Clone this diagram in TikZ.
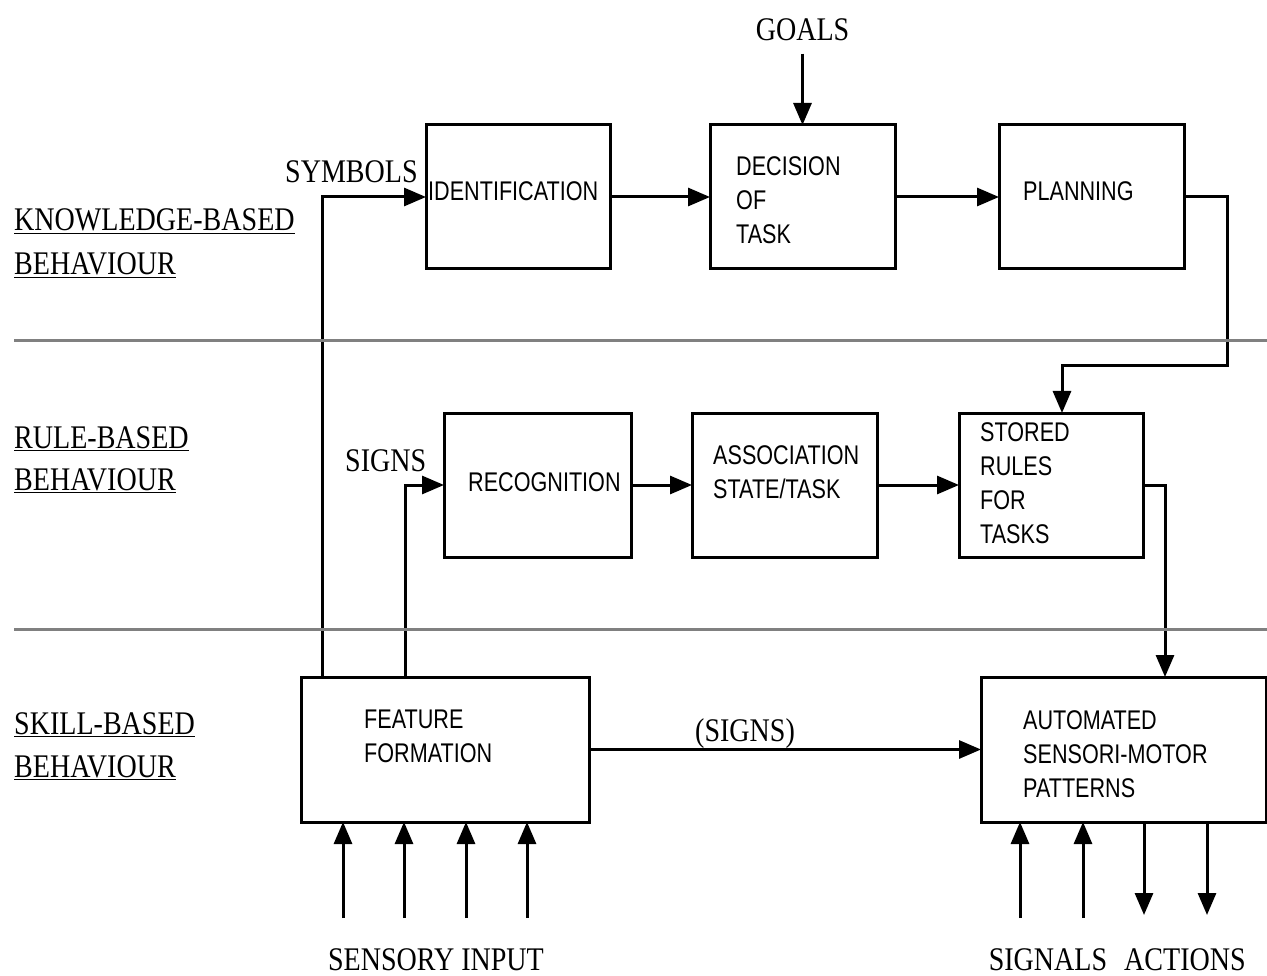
\documentclass[tikz,border=0pt]{standalone}
\usepackage{fontspec}
\setmainfont{Liberation Serif}[FakeStretch=0.85]
\newfontfamily\boxfont{Liberation Sans}[FakeStretch=0.8]
\usetikzlibrary{arrows.meta}
\definecolor{sepgray}{RGB}{128,128,128}
\begin{document}
\begin{tikzpicture}[x=1pt,y=-1pt,
  box/.style={draw, line width=3pt, minimum height=144pt, inner sep=0pt, outer sep=0pt, anchor=north west},
  conn/.style={line width=3pt, -{Triangle[length=22pt,width=18pt]}},
  sepline/.style={line width=3pt, draw=sepgray},
  serif/.style={inner sep=0pt, font=\fontsize{33}{43}\selectfont, anchor=base west},
  sans/.style={inner sep=0pt, font=\boxfont\fontsize{27}{34}\selectfont, align=left, anchor=north west},
]
\useasboundingbox (0,0) rectangle (1267,976);

% boxes
\node[box, minimum width=184pt] (ident) at (426,125) {};
\node[box, minimum width=185pt] (dec) at (710,125) {};
\node[box, minimum width=185pt] (plan) at (999,125) {};
\node[box, minimum width=187pt] (recog) at (444,413) {};
\node[box, minimum width=185pt] (assoc) at (692,413) {};
\node[box, minimum width=184pt] (stored) at (959,413) {};
\node[box, minimum width=288pt, minimum height=145pt] (ff) at (301,677) {};
\node[box, minimum width=285pt, minimum height=145pt] (auto) at (981,677) {};

% box texts
\node[sans, anchor=base west] (tident) at (428,201) {IDENTIFICATION};
\node[sans] (tdec) at (736,156) {DECISION\\OF\\TASK};
\node[sans, anchor=base west] (tplan) at (1023,201) {PLANNING};
\node[sans, anchor=base west] (trec) at (468,491) {RECOGNITION};
\node[sans] (tassoc) at (713,445) {ASSOCIATION\\STATE/TASK};
\node[sans] (tstored) at (980,422) {STORED\\RULES\\FOR\\TASKS};
\node[sans] (tff) at (364,710) {FEATURE\\FORMATION};
\node[sans] (tauto) at (1023,710) {AUTOMATED\\SENSORI-MOTOR\\PATTERNS};

% serif labels
\node[serif, anchor=base] (goals) at (802.5,41) {GOALS};
\node[serif] (symbols) at (285,183) {SYMBOLS};
\node[serif] (signs) at (345,471) {SIGNS};
\node[serif] (signs2) at (695,741) {(SIGNS)};
\node[serif, anchor=base] (sensory) at (436,970) {SENSORY INPUT};
\node[serif, anchor=base] (signals) at (1048,970) {SIGNALS};
\node[serif, anchor=base] (actions) at (1185,970) {ACTIONS};

\node[serif] (kb1) at (14,231) {\underline{KNOWLEDGE-BASED}};
\node[serif] (kb2) at (14,275) {\underline{BEHAVIOUR}};
\node[serif] (rb1) at (14,448) {\underline{RULE-BASED}};
\node[serif] (rb2) at (14,490) {\underline{BEHAVIOUR}};
\node[serif] (sb1) at (14,734) {\underline{SKILL-BASED}};
\node[serif] (sb2) at (14,777) {\underline{BEHAVIOUR}};

% connectors
\coordinate (symx) at (322,0);
\draw[conn] (symx |- ff.north) |- (ident.west);
\draw[conn] (ident.east) -- (dec.west);
\draw[conn] (dec.east) -- (plan.west);
\draw[conn] ([yshift=-12pt]goals.south) -- (dec.north);
\coordinate (p1) at (1227,366);
\coordinate (p2) at (1062,366);
\draw[conn] (plan.east) -| (p1) -- (p2) -- (p2 |- stored.north);

\coordinate (sgx) at (405,0);
\draw[conn] (sgx |- ff.north) |- (recog.west);
\draw[conn] (recog.east) -- (assoc.west);
\draw[conn] (assoc.east) -- (stored.west);
\coordinate (q1) at (1165,485);
\draw[conn] (stored.east) -- (q1) -- (q1 |- auto.north);
\draw[conn] (ff.east) -- (auto.west);

\foreach \x [count=\i] in {343,404,466,527} {
  \coordinate (in\i) at (\x,918);
  \draw[conn] (in\i) -- (in\i |- ff.south);
}
\foreach \x [count=\i] in {1020,1083} {
  \coordinate (sg\i) at (\x,918);
  \draw[conn] (sg\i) -- (sg\i |- auto.south);
}
\foreach \x [count=\i] in {1144,1207} {
  \coordinate (ac\i) at (\x,915);
  \draw[conn] (ac\i |- auto.south) -- (ac\i);
}

% level separators
\coordinate (l1a) at (14,341); \coordinate (l1b) at (1267,341);
\coordinate (l2a) at (14,629); \coordinate (l2b) at (1267,629);
\draw[sepline] (l1a) -- (l1b);
\draw[sepline] (l2a) -- (l2b);
\end{tikzpicture}
\end{document}
